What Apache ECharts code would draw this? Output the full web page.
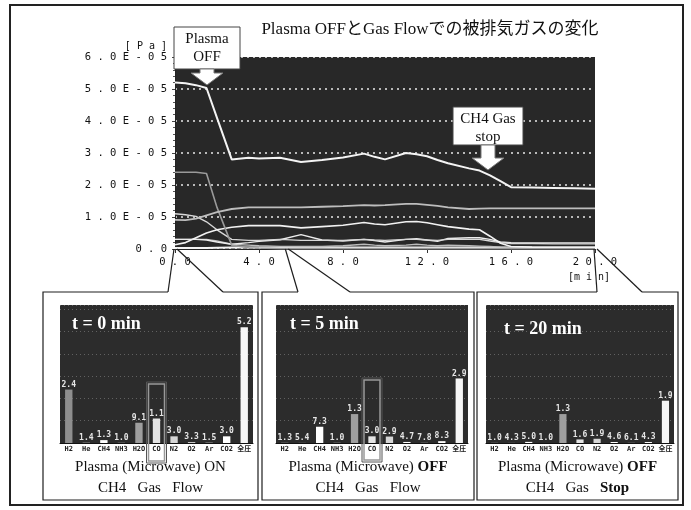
<!DOCTYPE html>
<html>
<head>
<meta charset="utf-8">
<script src="https://cdn.jsdelivr.net/npm/echarts/dist/echarts.min.js"></script>
<style>
  html, body { margin: 0; padding: 0; background: #fff; }
  #c { width: 691px; height: 510px; }
</style>
</head>
<body>
<div id="c"></div>
<script>
// Sampling times of the trend (min)
const minutes = [0, 0.5, 1, 1.5, 2, 2.7, 3.5, 4, 5, 6, 7, 8, 9, 9.5, 10, 11, 11.5, 12, 12.5, 13, 14, 14.5, 15, 15.5, 16, 17, 18, 19, 20];

// Partial pressures over time, in units of 1E-05 Pa
const totalP = [5.2, 5.18, 5.12, 5.03, 4.1, 2.8, 2.85, 2.83, 2.85, 2.72, 2.78, 2.86, 2.98, 2.88, 2.8, 3.0, 2.96, 2.9, 2.78, 2.68, 2.52, 2.45, 2.3, 2.12, 1.93, 1.92, 1.91, 1.9, 1.88];
const h2oP = [0.91, 0.9, 0.95, 1.05, 1.15, 1.25, 1.3, 1.3, 1.3, 1.3, 1.32, 1.34, 1.37, 1.36, 1.37, 1.41, 1.41, 1.38, 1.35, 1.3, 1.25, 1.26, 1.27, 1.27, 1.27, 1.27, 1.27, 1.27, 1.27];
const h2P = [2.4, 2.4, 2.4, 2.36, 1.3, 0.12, 0.04, 0.03, 0.013, 0.013, 0.012, 0.012, 0.012, 0.012, 0.012, 0.012, 0.012, 0.012, 0.011, 0.011, 0.011, 0.011, 0.011, 0.01, 0.01, 0.01, 0.01, 0.01, 0.01];
const ch4P = [0.13, 0.2, 0.35, 0.5, 0.6, 0.68, 0.73, 0.73, 0.73, 0.66, 0.7, 0.74, 0.83, 0.78, 0.76, 0.85, 0.86, 0.82, 0.76, 0.7, 0.62, 0.6, 0.4, 0.18, 0.08, 0.06, 0.05, 0.05, 0.05];
const coP = [1.1, 1.07, 1.02, 0.85, 0.6, 0.3, 0.27, 0.27, 0.3, 0.27, 0.27, 0.27, 0.3, 0.28, 0.27, 0.3, 0.3, 0.28, 0.27, 0.3, 0.3, 0.3, 0.25, 0.2, 0.17, 0.17, 0.16, 0.16, 0.16];
const n2P = [0.3, 0.3, 0.3, 0.28, 0.22, 0.15, 0.2, 0.24, 0.29, 0.45, 0.28, 0.25, 0.3, 0.26, 0.22, 0.3, 0.32, 0.28, 0.24, 0.33, 0.35, 0.35, 0.3, 0.22, 0.2, 0.19, 0.19, 0.19, 0.19];
const co2P = [0.3, 0.3, 0.3, 0.3, 0.25, 0.15, 0.12, 0.1, 0.083, 0.08, 0.08, 0.1, 0.15, 0.12, 0.1, 0.12, 0.15, 0.12, 0.1, 0.12, 0.1, 0.09, 0.08, 0.06, 0.05, 0.045, 0.043, 0.043, 0.043];
const o2P = [0.033, 0.033, 0.034, 0.035, 0.04, 0.045, 0.047, 0.047, 0.047, 0.047, 0.047, 0.047, 0.047, 0.047, 0.047, 0.047, 0.047, 0.047, 0.047, 0.047, 0.047, 0.047, 0.047, 0.046, 0.046, 0.046, 0.046, 0.046, 0.046];

// Snapshot of every gas at three moments (Pa)
const gasNames = ['H2', 'He', 'CH4', 'NH3', 'H2O', 'CO', 'N2', 'O2', 'Ar', 'CO2', '全圧'];
const bars0min = [2.4e-5, 1.4e-7, 1.3e-6, 1.0e-7, 9.1e-6, 1.1e-5, 3.0e-6, 3.3e-7, 1.5e-7, 3.0e-6, 5.2e-5];
const bars5min = [1.3e-7, 5.4e-8, 7.3e-6, 1.0e-7, 1.3e-5, 3.0e-6, 2.9e-6, 4.7e-7, 7.8e-8, 8.3e-7, 2.9e-5];
const bars20min = [1.0e-7, 4.3e-8, 5.0e-7, 1.0e-8, 1.3e-5, 1.6e-6, 1.9e-6, 4.6e-7, 6.1e-8, 4.3e-7, 1.9e-5];

// Axis ticks
const timeTicks = [0, 4, 8, 12, 16, 20];
const pressureTicks = [0, 1, 2, 3, 4, 5, 6];

const barShades = ['#8e8e8e', '#bdbdbd', '#ffffff', '#bdbdbd', '#9e9e9e', '#e4e4e4', '#d6d6d6', '#ffffff', '#cfcfcf', '#ffffff', '#f6f6f6'];

const chart = echarts.init(document.getElementById('c'), null, { renderer: 'canvas' });

const MONO = '"DejaVu Sans Mono", "Liberation Mono", monospace';
const SERIF = '"Liberation Serif", "DejaVu Serif", "Noto Sans CJK JP", serif';
const spaced = s => s.split('').join(' ');

const trendLine = (name, values, color, width) => ({
  name, type: 'line', xAxisIndex: 0, yAxisIndex: 0,
  data: minutes.map((t, i) => [t, values[i]]),
  showSymbol: false, symbol: 'none',
  lineStyle: { color, width },
  z: 3
});

const panelGrids = [
  { left: 60, top: 305, width: 193, height: 138 },
  { left: 276, top: 305, width: 192, height: 138 },
  { left: 486, top: 305, width: 188, height: 138 }
];
const panelData = [bars0min, bars5min, bars20min];

const option = {
  animation: false,
  backgroundColor: '#fff',
  grid: [
    { left: 175, top: 57, width: 420, height: 192, show: true, backgroundColor: '#282828', borderWidth: 0 },
    ...panelGrids.map(g => ({ ...g, show: true, backgroundColor: '#2c2c2c', borderWidth: 0 }))
  ],
  xAxis: [
    {
      type: 'value', gridIndex: 0, min: 0, max: 20, interval: 4,
      axisLine: { show: true, lineStyle: { color: '#222', width: 1 } },
      axisTick: { show: true, length: 4, lineStyle: { color: '#333' } },
      splitLine: { show: false },
      axisLabel: {
        margin: 8, color: '#111', fontFamily: MONO, fontSize: 10.5,
        formatter: v => timeTicks.includes(v) ? spaced(v.toFixed(1)) : ''
      }
    },
    ...panelGrids.map((g, i) => ({
      type: 'category', gridIndex: i + 1, data: gasNames,
      axisLine: { show: true, lineStyle: { color: '#111', width: 1 } },
      axisTick: { show: false },
      axisLabel: {
        interval: 0, margin: 3, color: '#222', fontFamily: MONO + ', "Noto Sans CJK JP"',
        fontSize: 7, fontWeight: 'bold'
      }
    }))
  ],
  yAxis: [
    {
      type: 'value', gridIndex: 0, min: 0, max: 6, interval: 1,
      name: spaced('[Pa]'), nameLocation: 'end', nameGap: 6,
      nameTextStyle: { fontFamily: MONO, fontSize: 10, color: '#111', align: 'right', padding: [0, 8, 0, 0] },
      axisLine: { show: true, lineStyle: { color: '#222' } },
      axisTick: { show: true, length: 3, lineStyle: { color: '#444' } },
      minorTick: { show: true, splitNumber: 5, length: 2, lineStyle: { color: '#555' } },
      splitLine: { show: true, lineStyle: { color: 'rgba(255,255,255,0.9)', width: 1.5, type: [2, 4] } },
      axisLabel: {
        margin: 8, color: '#111', fontFamily: MONO, fontSize: 10.5,
        formatter: v => pressureTicks.includes(v) ? spaced(v === 0 ? '0.0' : v.toFixed(1) + 'E-05') : ''
      }
    },
    ...panelGrids.map((g, i) => ({
      type: 'value', gridIndex: i + 1, min: 0, max: 6.2e-5, interval: 1e-5,
      axisLine: { show: false }, axisTick: { show: false }, axisLabel: { show: false },
      splitLine: { show: true, lineStyle: { color: 'rgba(255,255,255,0.25)', width: 1, type: [1, 3] } }
    }))
  ],
  series: [
    trendLine('O2', o2P, '#f4f4f4', 2),
    trendLine('CO2', co2P, '#bcbcbc', 1.4),
    trendLine('N2', n2P, '#ececec', 1.4),
    trendLine('CO', coP, '#d8d8d8', 1.4),
    trendLine('CH4', ch4P, '#f2f2f2', 1.6),
    trendLine('H2', h2P, '#9a9a9a', 1.6),
    trendLine('H2O', h2oP, '#bdbdbd', 1.8),
    trendLine('全圧', totalP, '#f4f4f4', 2),
    ...panelData.map((vals, i) => ({
      type: 'bar', xAxisIndex: i + 1, yAxisIndex: i + 1,
      data: vals.map((v, k) => ({ value: v, itemStyle: { color: barShades[k] } })),
      barWidth: '42%',
      label: {
        show: true, position: 'top', distance: 1,
        fontFamily: MONO, fontSize: 8, fontWeight: 'bold', color: '#e6e6e6',
        formatter: p => Number(p.value).toExponential(1).split('e')[0]
      }
    }))
  ]
};

chart.setOption(option);

// Annotation layer: frame, call-out panels, arrows and captions
const axisY = chart.convertToPixel({ yAxisIndex: 0 }, 0);
const tx = t => chart.convertToPixel({ xAxisIndex: 0 }, t);
const calloutAt = [0, 5.3, 20];

const boxTop = 292, boxBottom = 500;
const boxes = [
  { l: 43, r: 258, gapL: 168, gapR: 223 },
  { l: 262, r: 474, gapL: 298, gapR: 350 },
  { l: 477, r: 678, gapL: 597, gapR: 642 }
];

const stroke = { stroke: '#1e1e1e', lineWidth: 1.2, fill: null };
const g = [];

g.push({ type: 'rect', shape: { x: 10, y: 5, width: 673, height: 500 }, style: { stroke: '#222', lineWidth: 2, fill: null }, z: 50 });

boxes.forEach((b, i) => {
  const ax = tx(calloutAt[i]);
  g.push({
    type: 'polyline', z: 50,
    shape: { points: [[b.gapL, boxTop], [b.l, boxTop], [b.l, boxBottom], [b.r, boxBottom], [b.r, boxTop], [b.gapR, boxTop]] },
    style: stroke
  });
  g.push({ type: 'line', z: 50, shape: { x1: b.gapL, y1: boxTop, x2: ax - 1, y2: axisY }, style: stroke });
  g.push({ type: 'line', z: 50, shape: { x1: b.gapR, y1: boxTop, x2: ax + 2, y2: axisY }, style: stroke });
});

// Panel headings
const headings = [
  { text: 't = 0 min', x: 72, y: 324 },
  { text: 't = 5 min', x: 290, y: 324 },
  { text: 't = 20 min', x: 504, y: 329 }
];
headings.forEach(h => g.push({
  type: 'text', z: 60,
  style: { text: h.text, x: h.x, y: h.y, font: 'bold 18px ' + SERIF, fill: '#fff', textAlign: 'left', textVerticalAlign: 'middle' }
}));

// Captions under each panel
const captions = [
  { a: '{n|Plasma (Microwave) ON}', b: '{n|CH4\u00a0\u00a0 Gas\u00a0\u00a0 Flow}' },
  { a: '{n|Plasma (Microwave) }{b|OFF}', b: '{n|CH4\u00a0\u00a0 Gas\u00a0\u00a0 Flow}' },
  { a: '{n|Plasma (Microwave) }{b|OFF}', b: '{n|CH4\u00a0\u00a0 Gas\u00a0\u00a0 }{b|Stop}' }
];
const rich = {
  n: { font: '15px ' + SERIF, fill: '#111' },
  b: { font: 'bold 15px ' + SERIF, fill: '#111' }
};
captions.forEach((c, i) => {
  const cx = (boxes[i].l + boxes[i].r) / 2;
  g.push({ type: 'text', z: 60, style: { text: c.a, rich, x: cx, y: 467, textAlign: 'center', textVerticalAlign: 'middle' } });
  g.push({ type: 'text', z: 60, style: { text: c.b, rich, x: cx, y: 488, textAlign: 'center', textVerticalAlign: 'middle' } });
});

// CO highlight frames in the first two panels
[1, 2].forEach((ax, i) => {
  const cx = chart.convertToPixel({ xAxisIndex: ax }, 'CO');
  const top = i === 0 ? 382 : 378;
  const bottom = i === 0 ? 463 : 462;
  g.push({ type: 'rect', z: 55, shape: { x: cx - 10, y: top, width: 20, height: bottom - top }, style: { stroke: '#555', lineWidth: 1, fill: null } });
  g.push({ type: 'rect', z: 55, shape: { x: cx - 8, y: top + 2, width: 16, height: bottom - top - 4 }, style: { stroke: '#999', lineWidth: 1.5, fill: null } });
});

// Event markers with downward arrows
const marker = (x, y, w, h, lines, tipY) => {
  const cx = x + w / 2;
  g.push({ type: 'rect', z: 70, shape: { x, y, width: w, height: h }, style: { fill: '#fff', stroke: '#444', lineWidth: 1 } });
  lines.forEach((t, k) => g.push({
    type: 'text', z: 71,
    style: { text: t, x: cx, y: y + 12 + k * 18, font: '15px ' + SERIF, fill: '#111', textAlign: 'center', textVerticalAlign: 'middle' }
  }));
  const headTop = tipY - 12;
  g.push({
    type: 'polygon', z: 70,
    shape: { points: [[cx - 7, y + h], [cx + 7, y + h], [cx + 7, headTop], [cx + 16, headTop], [cx, tipY], [cx - 16, headTop], [cx - 7, headTop]] },
    style: { fill: '#fff', stroke: '#777', lineWidth: 1 }
  });
};
marker(174, 27, 66, 42, ['Plasma', 'OFF'], 85);
marker(453, 107, 70, 38, ['CH4 Gas', 'stop'], 170);

// Chart title and time unit
g.push({
  type: 'text', z: 60,
  style: { text: 'Plasma OFFとGas Flowでの被排気ガスの変化', x: 430, y: 30, font: '17px ' + SERIF, fill: '#111', textAlign: 'center', textVerticalAlign: 'middle' }
});
g.push({
  type: 'text', z: 60,
  style: { text: '[m i n]', x: 589, y: 277, font: '10px ' + MONO, fill: '#111', textAlign: 'center', textVerticalAlign: 'middle' }
});

chart.setOption({ graphic: { elements: g } });
</script>
</body>
</html>
